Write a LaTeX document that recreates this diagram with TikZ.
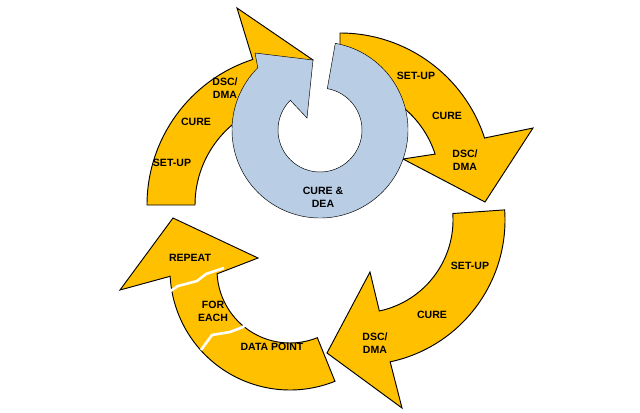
\documentclass[tikz,border=0pt]{standalone}
\usepackage{fontspec}
\setmainfont{Liberation Sans}
\usetikzlibrary{calc}
\definecolor{cycleorange}{HTML}{FFC000}
\definecolor{cycleblue}{HTML}{B9CDE5}

\begin{document}
\begin{tikzpicture}[x=0.03cm,y=-0.03cm,
    orangearrow/.style={draw=black,thick,fill=cycleorange,line join=miter},
    bluearrow/.style={draw=black,thin,fill=cycleblue},
    steplabel/.style={font=\fontsize{9}{11}\selectfont\bfseries,align=center,inner sep=1pt},
    gapline/.style={white,line width=2.2pt}]
        \useasboundingbox (0,0) rectangle (640,412);

        % Top left arrow
        \coordinate (ctl) at (300,205);
        \draw[orangearrow] ($(ctl)+(-180:153)$) arc[start angle=-180,end angle=-108,radius=153]
            -- (237,8) -- (313,60) -- (268,78) -- ($(ctl)+(-108:105)$)
            arc[start angle=-108,end angle=-180,radius=105] -- cycle;

        % Top right arrow
        \coordinate (ctr) at (340,185);
        \draw[orangearrow] ($(ctr)+(-90:152)$) arc[start angle=-90,end angle=-18,radius=152]
            -- (533,128) -- (485,202) -- (403,159) -- ($(ctr)+(-18:100)$)
            arc[start angle=-18,end angle=-90,radius=100] -- cycle;

        % Bottom right arrow
        \coordinate (cbr) at (360,220);
        \draw[orangearrow] ($(cbr)+(-4:145)$) arc[start angle=-4,end angle=78,radius=145]
            -- (402,408) -- (327,353) -- (370,272) -- ($(cbr)+(78:93)$)
            arc[start angle=78,end angle=-4,radius=93] -- cycle;

        % Bottom left arrow
        \coordinate (cbl) at (290,270);
        \draw[orangearrow] ($(cbl)+(68:120)$) arc[start angle=68,end angle=177,radius=120]
            -- (120,290) -- (173,218) -- (258,258) -- ($(cbl)+(177:73)$)
            arc[start angle=177,end angle=68,radius=73] -- cycle;
        \draw[gapline] (163,296) -- (178,286) -- (197,281) -- (206,274) -- (224,268);
        \draw[gapline] (201,350) -- (212,335) -- (230,332) -- (243,327) -- (254,316);

        % Inner blue arrow
        \coordinate (cin) at (320,130);
        \draw[bluearrow] ($(cin)+(-80:88)$) arc[start angle=-80,end angle=225,radius=88]
            -- (255,53) -- (313,60) -- (307,118) -- ($(cin)+(225:42)$)
            arc[start angle=225,end angle=-80,radius=42] -- cycle;

        % Labels
        \node[steplabel] (tldsc) at (225,88) {DSC/\\DMA};
        \node[steplabel] (tlcure) at (196,122) {CURE};
        \node[steplabel] (tlsetup) at (172,163) {SET-UP};
        \node[steplabel] (trsetup) at (416,76) {SET-UP};
        \node[steplabel] (trcure) at (447,116) {CURE};
        \node[steplabel] (trdsc) at (465,160) {DSC/\\DMA};
        \node[steplabel] (innercure) at (323,197) {CURE \&\\DEA};
        \node[steplabel] (brsetup) at (470,266) {SET-UP};
        \node[steplabel] (brcure) at (432,315) {CURE};
        \node[steplabel] (brdsc) at (375,343) {DSC/\\DMA};
        \node[steplabel] (repeat) at (190,258) {REPEAT};
        \node[steplabel] (foreach) at (213,311) {FOR\\EACH};
        \node[steplabel] (datapoint) at (272,347) {DATA POINT};
    \end{tikzpicture}
\end{document}
